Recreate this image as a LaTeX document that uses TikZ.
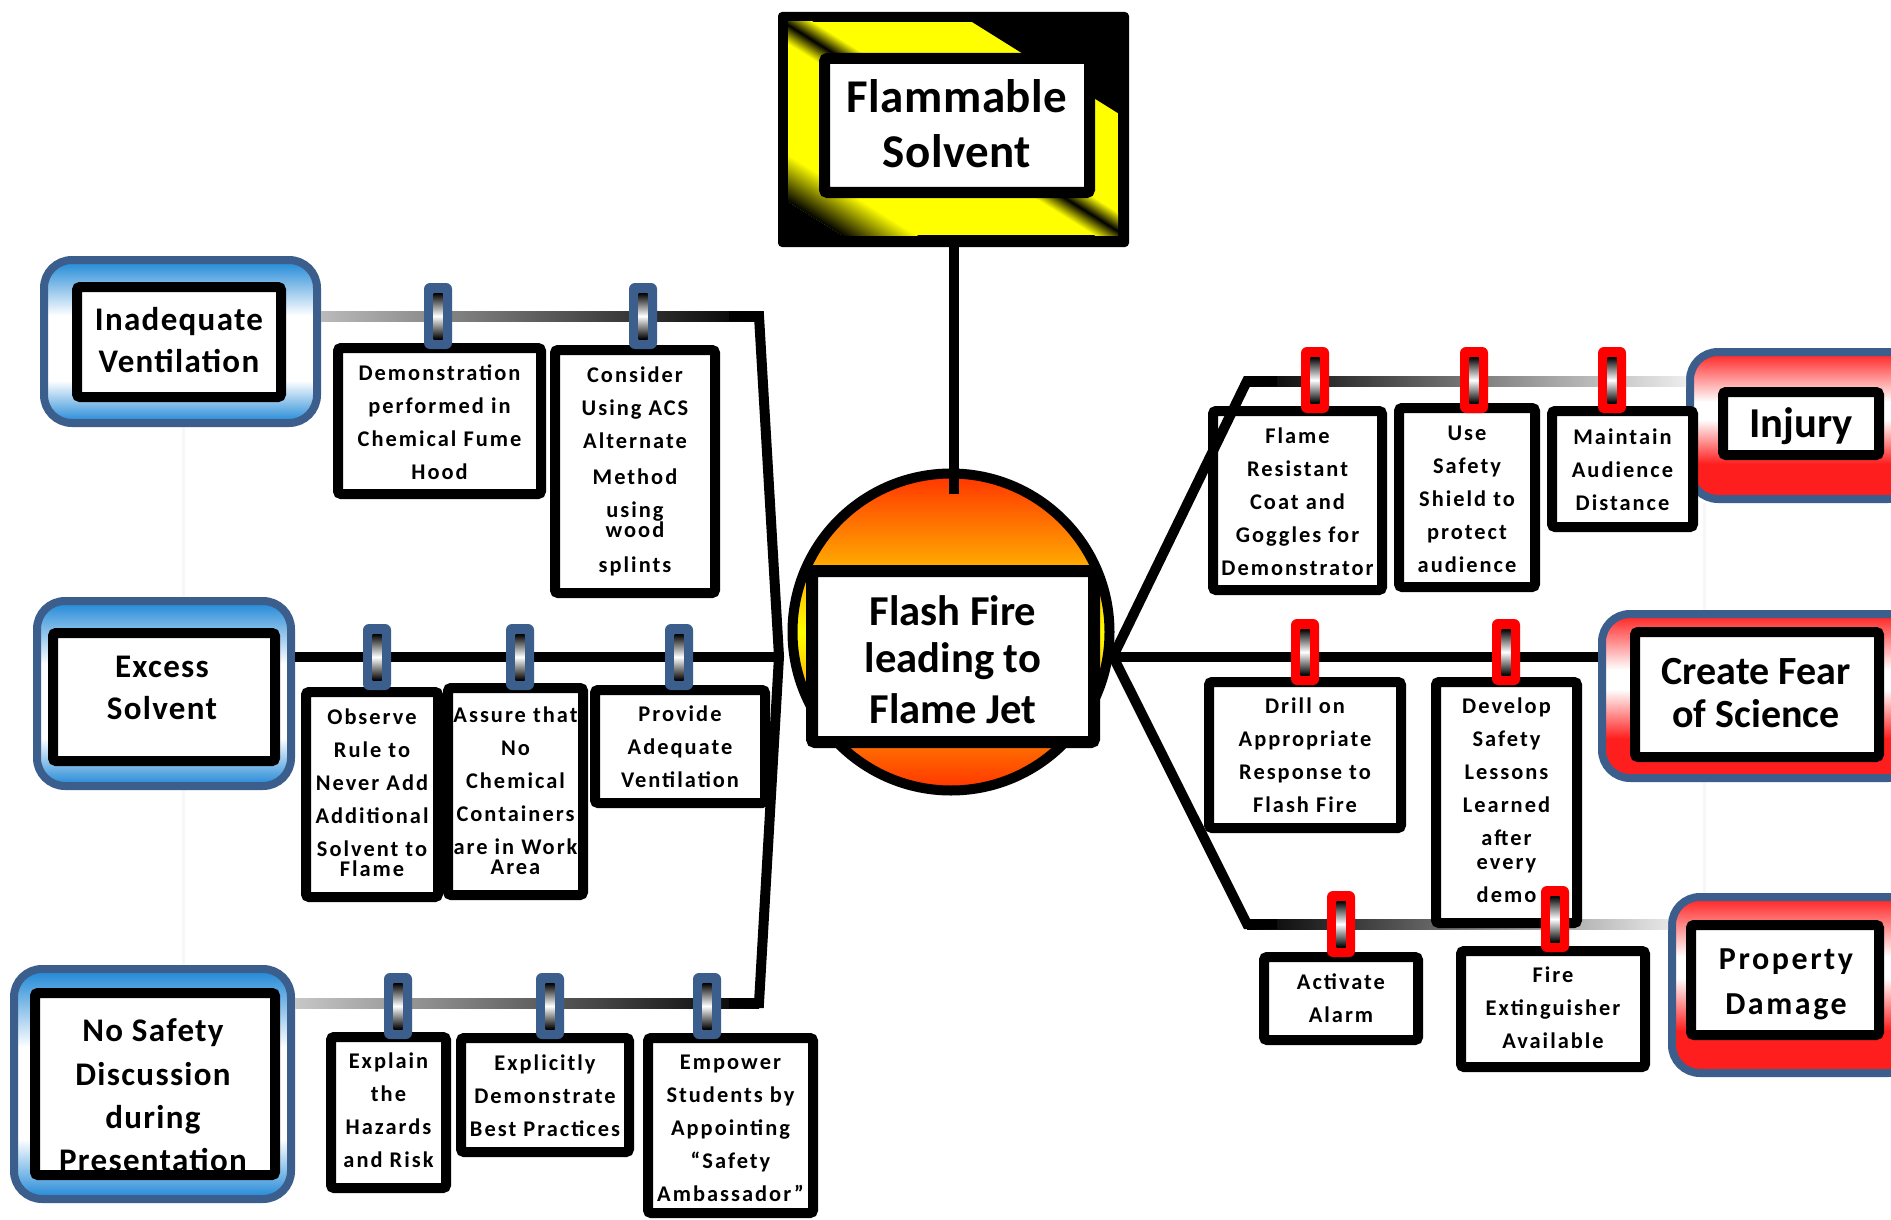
\documentclass[tikz,border=0pt]{standalone}
\usepackage{fontspec}
\usetikzlibrary{fit,calc}
\newfontfamily\tagfont{Carlito}[LetterSpace=9]
\newfontfamily\labfont{Carlito}[LetterSpace=4]
\newfontfamily\widefont{Carlito}[LetterSpace=8]
\newfontfamily\titlefont{Carlito}[LetterSpace=1]
\newfontfamily\plainfont{Carlito}

\definecolor{frameedge}{RGB}{59,94,140}
\definecolor{frameblue}{RGB}{28,134,214}
\definecolor{framered}{RGB}{255,30,30}
\definecolor{firered}{RGB}{255,51,0}
\definecolor{hazyellow}{RGB}{255,255,0}

\pgfdeclareverticalshading{bluepanel}{100bp}{color(0bp)=(frameblue); color(25bp)=(frameblue); color(38bp)=(white); color(58bp)=(white); color(75bp)=(frameblue); color(100bp)=(frameblue)}
\pgfdeclareverticalshading{redpanel}{100bp}{color(0bp)=(framered); color(37bp)=(framered); color(52bp)=(white); color(58bp)=(white); color(75bp)=(framered); color(100bp)=(framered)}

\pgfdeclarelayer{guides}
\pgfsetlayers{guides,main}

\tikzset{
  conn/.style={line width=5pt, line join=miter, draw=black},
  faint/.style={line width=1.5pt, draw=black!3},
  innerbox/.style={draw=black, line width=5pt, fill=white, rounded corners=1.5pt, inner sep=0pt, outer sep=0pt},
  tagbox/.style={innerbox},
  tagtext/.style={align=center, inner sep=0pt, font=\tagfont\bfseries\fontsize{11.2}{16.5}\selectfont},
  labeltext/.style={align=center, inner sep=0pt, font=\labfont\bfseries\fontsize{16.5}{21}\selectfont},
  panelblue/.style={draw=frameedge, line width=4pt, rounded corners=14pt, shade, shading=bluepanel, inner sep=0pt},
  panelred/.style={draw=frameedge, line width=4pt, rounded corners=14pt, shade, shading=redpanel, inner sep=0pt},
  pinbody/.style={minimum width=14pt, minimum height=33pt, rounded corners=3pt, inner sep=0pt},
  pinbar/.style={minimum width=4.5pt, minimum height=23pt, inner sep=0pt, top color=black, bottom color=black, middle color=white},
}

% a clothes-peg holding a card on its line
\newcommand\clothespin[4]{%
  \node[pinbody, fill=#4] (#1) at (#2,#3) {};
  \node[pinbar] (#1-bar) at (#1) {};
}
% a card: name, outer corners x1 y1 x2 y2, text centre y, text
\newcommand\card[7]{%
  \node[tagbox, fit={(#2+5,#3+5) (#4-5,#5-5)}] (#1) {};
  \node[tagtext] (#1-t) at ({(#2+#4)/2},#6) {#7};
}

\begin{document}
\begin{tikzpicture}[x=0.5pt,y=-0.5pt]
\useasboundingbox (0,0) rectangle (1891,1220);
\begin{pgfonlayer}{guides}
  \fill[white] (0,0) rectangle (1891,1220);
\end{pgfonlayer}

% ---------- cause panels (left) ----------
\node[panelblue, fit={(44,260) (317,423)}] (inad) {};
\node[innerbox, fit={(77,287) (281,397)}] (inad-in) {};
\node[labeltext] (inad-t) at (179,340.5) {Inadequate\\Ventilation};

\node[panelblue, fit={(37,601) (291,786)}] (exc) {};
\node[innerbox, fit={(53,633) (275,761)}] (exc-in) {};
\node[labeltext] (exc-t) at (162,688) {Excess\\Solvent};

\node[panelblue, fit={(14,969) (291,1199)}] (nos) {};
\node[innerbox, fit={(35,993) (275,1175)}] (nos-in) {};
\node[labeltext, font=\labfont\bfseries\fontsize{16.5}{21.7}\selectfont] (nos-t) at (153,1095.5) {No Safety\\Discussion\\during\\Presentation};

% ---------- consequence panels (right) ----------
\node[panelred, fit={(1690,352) (1916,499)}] (inj) {};
\node[innerbox, fit={(1723,392) (1879,455)}] (inj-in) {};
\node[inner sep=0pt, anchor=base, font=\plainfont\bfseries\fontsize{21.3}{25}\selectfont] (inj-t) at (1801,437) {Injury};

\node[panelred, fit={(1602,614) (1916,778)}] (fear) {};
\node[innerbox, fit={(1635,632) (1879,757)}] (fear-in) {};
\node[align=center, inner sep=0pt, font=\plainfont\bfseries\fontsize{20}{21.5}\selectfont] (fear-t) at (1756,693.5) {Create Fear\\of Science};

\node[panelred, fit={(1672,897) (1916,1073)}] (prop) {};
\node[innerbox, fit={(1691,925) (1879,1035)}] (prop-in) {};
\node[align=center, inner sep=0pt, font=\widefont\bfseries\fontsize{16}{22.5}\selectfont] (prop-t) at (1786,984) {Property\\Damage};

% faint guide strokes, kept behind the panels
\begin{pgfonlayer}{guides}
  \draw[faint] ($(inad.south west)+(143,0)$) -- ++(0,538);
  \draw[faint] ($(inj.south west)+(18,0)$) -- ++(0,392);
\end{pgfonlayer}

% ---------- hazard sign ----------
\node[fill=black, rounded corners=2pt, inner sep=0pt, fit={(778,12) (1129,247)}] (hazard) {};
\begin{scope}
  \clip (788,22) rectangle (1118,235);
  \fill[hazyellow] (788,22) rectangle (1118,235);
  \begin{scope}[transform canvas={shift={(953,128)}, rotate=-32}]
    \fill[black] (-300,-300) rectangle (300,-100);
    \shade[top color=hazyellow, bottom color=hazyellow, middle color=black] (-300,-16) rectangle (300,16);
    \shade[top color=hazyellow, bottom color=black] (-300,110) rectangle (300,150);
    \fill[black] (-300,150) rectangle (300,300);
  \end{scope}
\end{scope}
\node[draw=black, line width=5.5pt, fill=white, rounded corners=1.5pt, inner sep=0pt, fit={(824.5,58.5) (1089.5,192.5)}] (flam) {};
\node[align=center, inner sep=0pt, font=\titlefont\bfseries\fontsize{23.5}{27.5}\selectfont] (flam-t) at (957,123.5) {Flammable\\Solvent};

% ---------- top event ----------
\node[circle, draw=black, line width=5pt, minimum size=158.5pt, inner sep=0pt,
      top color=firered, bottom color=firered, middle color=yellow] (fire) at (951,632) {};
\draw[conn] (hazard.south) -- ($(hazard.south |- fire.north)+(0,25)$);
\node[draw=black, line width=6pt, fill=white, rounded corners=1.5pt, inner sep=0pt, fit={(812,571) (1094,742)}] (flash) {};
\node[align=center, inner sep=0pt, font=\plainfont\bfseries\fontsize{21.3}{23.5}\selectfont] (flash-t) at (953,659.5) {Flash Fire\\leading to\\[2pt]Flame Jet};

% ---------- branch lines ----------
\coordinate (la) at ($(flash.west)+(-27,0)$);
\coordinate (ra) at ($(flash.east)+(13,0)$);
\coordinate (lt) at (759,316);
\coordinate (lb) at (759,1003);
\coordinate (rt) at (1247,381);
\coordinate (rb) at (1247,924);

\shade[left color=black!27, right color=black] ($(inad.east |- lt)+(0,-5)$) rectangle ($(lt)+(0,5)$);
\shade[left color=black!22, right color=black] ($(nos.east |- lb)+(0,-5)$) rectangle ($(lb)+(0,5)$);
\draw[conn] ($(lt)+(-30,0)$) -- (lt) -- (la) -- (lb) -- ($(lb)+(-30,0)$);
\draw[conn] (exc.east |- la) -- (la);

\shade[left color=black, right color=black!7] ($(rt)+(0,-5)$) rectangle ($(inj.west |- rt)+(0,5)$);
\shade[left color=black, right color=black!10] ($(rb)+(0,-5)$) rectangle ($(prop.west |- rb)+(0,5)$);
\draw[conn] (ra) -- (fear.west |- ra);

% ---------- cards ----------
\card{c1}{333}{343}{546}{499}{422}{Demonstration\\performed in\\Chemical Fume\\Hood}
\card{c2}{550}{345}{720}{598}{471.5}{Consider\\Using ACS\\Alternate\\[1.5pt]Method\\using\\[-6.5pt]wood\\[1pt]splints}
\card{c3}{301}{687}{443}{902}{793}{Observe\\Rule to\\Never Add\\Additional\\Solvent to\\[-6.5pt]Flame}
\card{c4}{443}{683}{588}{900}{790.5}{Assure that\\No\\Chemical\\Containers\\are in Work\\[-6.5pt]Area}
\card{c5}{590}{685}{770}{808}{746.5}{Provide\\Adequate\\Ventilation}
\card{c6}{326}{1032}{451}{1193}{1110}{Explain\\the\\Hazards\\and Risk}
\card{c7}{456}{1033}{634}{1157}{1095.5}{Explicitly\\Demonstrate\\Best Practices}
\card{c8}{643}{1033}{818}{1218}{1128.5}{Empower\\Students by\\Appointing\\“Safety\\Ambassador”}
\card{c9}{1208}{406}{1387}{595}{502}{Flame\\Resistant\\Coat and\\Goggles for\\Demonstrator}
\card{c10}{1394}{403}{1540}{592}{499.5}{Use\\Safety\\Shield to\\protect\\audience}
\card{c11}{1547}{406}{1698}{532}{469.5}{Maintain\\Audience\\Distance}
\card{c12}{1204}{677}{1406}{833}{755.5}{Drill on\\Appropriate\\Response to\\Flash Fire}
\card{c13}{1431}{677}{1582}{928}{800}{Develop\\Safety\\Lessons\\Learned\\after\\[-4.5pt]every\\demo}
\card{c14}{1259}{952}{1423}{1045}{998.5}{Activate\\Alarm}
\card{c15}{1456}{946}{1650}{1072}{1008}{Fire\\Extinguisher\\Available}

% right spine runs over the first card
\draw[conn] ($(rt)+(30,0)$) -- (rt) -- (ra) -- (rb) -- ($(rb)+(30,0)$);

% ---------- pegs ----------
\clothespin{p1}{438}{316}{frameedge}
\clothespin{p2}{643}{316}{frameedge}
\clothespin{p3}{377}{657}{frameedge}
\clothespin{p4}{520}{657}{frameedge}
\clothespin{p5}{679}{657}{frameedge}
\clothespin{p6}{398}{1006}{frameedge}
\clothespin{p7}{550}{1006}{frameedge}
\clothespin{p8}{707}{1006}{frameedge}
\clothespin{p9}{1315}{380}{red}
\clothespin{p10}{1474}{380}{red}
\clothespin{p11}{1612}{380}{red}
\clothespin{p12}{1305}{652}{red}
\clothespin{p13}{1506}{652}{red}
\clothespin{p14}{1341}{924}{red}
\clothespin{p15}{1555}{919}{red}
\end{tikzpicture}
\end{document}
